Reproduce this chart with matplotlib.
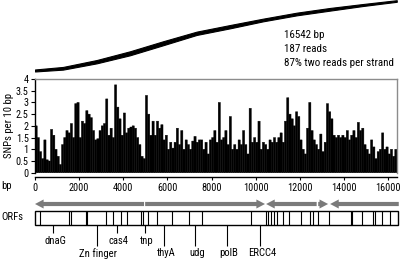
import os
import matplotlib
matplotlib.use('Agg')
import matplotlib.pyplot as plt
import matplotlib.font_manager as fm
from matplotlib.patches import FancyArrowPatch, Rectangle

# ---------------- font: prefer a condensed sans if one exists ----------------
chosen = None
try:
    files = fm.findSystemFonts()
    prefs = ['liberationsansnarrow-regular', 'robotocondensed-regular',
             'opensans_condensed-regular', 'opensanscondensed-regular',
             'notosanscondensed-regular', 'dejavusanscondensed.ttf']
    for p in prefs:
        for f in files:
            b = os.path.basename(f).lower().replace(' ', '')
            if b.startswith(p):
                chosen = f
                break
        if chosen:
            break
except Exception:
    chosen = None

if chosen:
    fm.fontManager.addfont(chosen)
    fam = fm.FontProperties(fname=chosen).get_name()
    plt.rcParams['font.family'] = [fam, 'Liberation Sans', 'DejaVu Sans']
    FS = 7.4
else:
    plt.rcParams['font.family'] = ['Liberation Sans', 'DejaVu Sans']
    FS = 6.6

# ---------------- data ----------------
info_lines = ["16542 bp", "187 reads", "87% two reads per strand"]

# read tiling band (position in bp, read index at band centre, band thickness)
band_pos = [0, 1269, 2796, 4304, 5800, 7327, 8835, 10331, 11858, 13366, 14862, 16389]
band_mid = [13.8, 19.3, 35.8, 56.8, 81.8, 106.8, 123.3, 140, 155, 166.8, 177.5, 187.5]
band_thk = [5, 6.7, 8.3, 10, 10, 8.3, 8.3, 6.7, 6.7, 6.7, 5, 4]

# SNPs per 10 bp, 100-bp windows starting at 0
snp_window = 100
snp_values = [
    2.0, 1.5, 0.9, 0.6, 1.4, 0.55, 0.5, 1.85, 1.6, 1.0,
    0.7, 0.35, 1.2, 1.5, 1.8, 1.7, 2.1, 1.5, 2.95, 3.0,
    1.5, 2.2, 2.1, 2.65, 2.5, 2.35, 1.8, 1.4, 1.45, 1.8,
    2.0, 2.1, 3.15, 1.6, 1.9, 1.5, 3.75, 2.8, 2.3, 1.6,
    2.55, 1.7, 1.9, 1.95, 2.0, 1.9, 1.5, 1.2, 0.7, 0.6,
    3.3, 2.5, 1.6, 2.2, 1.6, 2.2, 1.9, 2.05, 1.4, 1.6,
    1.0, 1.3, 1.05, 1.3, 1.9, 1.2, 1.8, 1.0, 1.4, 1.2,
    1.0, 1.35, 1.55, 1.3, 1.4, 1.4, 1.0, 1.3, 0.8, 1.4,
    1.5, 1.8, 1.3, 3.0, 1.4, 1.5, 1.8, 1.2, 2.4, 1.0,
    1.2, 1.0, 1.4, 1.2, 1.8, 1.2, 0.8, 2.75, 1.3, 1.5,
    1.3, 2.2, 1.0, 1.3, 1.2, 1.0, 1.4, 1.3, 1.5, 1.3,
    1.5, 1.7, 1.3, 2.2, 3.2, 2.5, 2.3, 2.0, 2.6, 2.4,
    1.4, 1.0, 0.8, 1.9, 3.0, 1.8, 1.4, 1.2, 1.0, 1.65,
    0.9, 1.3, 2.95, 2.6, 2.3, 1.6, 1.5, 1.6, 1.5, 1.6,
    1.5, 1.8, 1.4, 1.6, 1.8, 1.5, 2.15, 1.8, 1.9, 1.2,
    1.0, 0.8, 1.4, 1.1, 0.6, 0.9, 1.0, 1.7, 1.0, 1.1,
    0.8, 1.0, 0.7, 1.0, 0.2,
]

x_ticks = [0, 2000, 4000, 6000, 8000, 10000, 12000, 14000, 16000]
y_ticks = [0, 0.5, 1, 1.5, 2, 2.5, 3, 3.5, 4]
y_tick_labels = ["0", "0.5", "1", "1.5", "2", "2.5", "3", "3.5", "4"]

# ORF strand arrows (tail bp, head bp)
arrow_tail = [4940, 4990, 12760, 12830, 16480]
arrow_head = [0, 10420, 10470, 13280, 13370]

# ORF boundaries inside the box (bp)
orf_bounds = [204, 1540, 1631, 2288, 2356, 3217, 3521, 3897, 4155, 4803, 4907,
              5120, 5514, 6208, 6991, 7553, 9787, 10467, 10557, 10693, 10807,
              10943, 11214, 11509, 12053, 12442, 12610, 12823, 13335, 14295,
              14372, 14825, 15292, 15405, 15709, 16085]
orf_end = 16460

gene_names = ["dnaG", "Zn finger", "cas4", "tnp", "thyA", "udg", "polB", "ERCC4"]
gene_pos = [829, 2796, 3700, 4984, 5845, 7250, 8700, 10195]
gene_row = [0, 1, 0, 0, 1, 1, 1, 1]

# ---------------- layout ----------------
W, H = 400, 260
fig = plt.figure(figsize=(4, 2.6), dpi=100)


def fx(px):
    return px / W


def fy(py):
    return 1 - py / H


X0, X1 = 35, 397
XMAX = 16400

ax_top = fig.add_axes([fx(X0), fy(76), fx(X1 - X0), 76 / H])
ax = fig.add_axes([fx(X0), fy(172.7), fx(X1 - X0), (172.7 - 79) / H])
ax_orf = fig.add_axes([fx(X0), 0, fx(X1 - X0), fy(196)])

# top band
ax_top.set_xlim(0, XMAX)
ax_top.set_ylim(0, 190)
lo = [m - t / 2 for m, t in zip(band_mid, band_thk)]
hi = [m + t / 2 for m, t in zip(band_mid, band_thk)]
ax_top.fill_between(band_pos, lo, hi, color='black', linewidth=0.8, edgecolor='black')
ax_top.axis('off')
for i, t in enumerate(info_lines):
    fig.text(fx(284), fy(35 + 14 * i), t, fontsize=FS + 0.5, ha='left', va='center')

# SNP bars
starts = [i * snp_window for i in range(len(snp_values))]
bars = ax.bar(starts, snp_values, width=snp_window, align='edge', color='black',
              edgecolor='black', linewidth=0.3)
for b in bars:
    b.set_snap(False)
ax.set_xlim(0, XMAX)
ax.set_ylim(0, 4)
ax.set_yticks(y_ticks)
ax.set_yticklabels(y_tick_labels)
ax.set_xticks(x_ticks)
ax.set_xticklabels([str(t) for t in x_ticks])
ax.tick_params(axis='y', length=3, width=0.8, pad=1.5, labelsize=FS)
ax.tick_params(axis='x', length=2, width=0.8, pad=2, labelsize=FS)
ax.spines['bottom'].set_position(('outward', 3.3))
for s in ['top', 'right']:
    ax.spines[s].set_color('#8c8c8c')
    ax.spines[s].set_linewidth(1)
for s in ['left', 'bottom']:
    ax.spines[s].set_color('black')
    ax.spines[s].set_linewidth(1)
fig.text(fx(9.5), fy(126), 'SNPs per 10 bp', rotation=90, fontsize=FS + 0.3,
         ha='center', va='center')
fig.text(fx(1), fy(186), 'bp', fontsize=FS + 0.3, ha='left', va='center')
fig.text(fx(1), fy(217), 'ORFs', fontsize=FS + 0.3, ha='left', va='center')

# ORF panel, y in pixels below 196
ax_orf.set_xlim(0, XMAX)
ax_orf.set_ylim(64, 0)
ax_orf.axis('off')
for t, h in zip(arrow_tail, arrow_head):
    a = FancyArrowPatch((t, 8), (h, 8),
                        arrowstyle='simple,head_length=6.2,head_width=6.5,tail_width=3.0',
                        mutation_scale=1, color='#7a7a7a', linewidth=0,
                        shrinkA=0, shrinkB=0, clip_on=False)
    ax_orf.add_patch(a)
ax_orf.add_patch(Rectangle((0, 15), orf_end, 14, fill=False, edgecolor='black',
                           linewidth=1, clip_on=False))
ax_orf.vlines(orf_bounds, 15, 29, color='black', linewidth=0.8, clip_on=False)
for name, pos, row in zip(gene_names, gene_pos, gene_row):
    end = 37 if row == 0 else 50
    ty = 45.5 if row == 0 else 57.5
    ax_orf.vlines(pos, 29, end, color='black', linewidth=0.8)
    ax_orf.text(pos + 80, ty, name, fontsize=FS + 0.3, ha='center', va='center')

fig.savefig('out.png', dpi=100)
